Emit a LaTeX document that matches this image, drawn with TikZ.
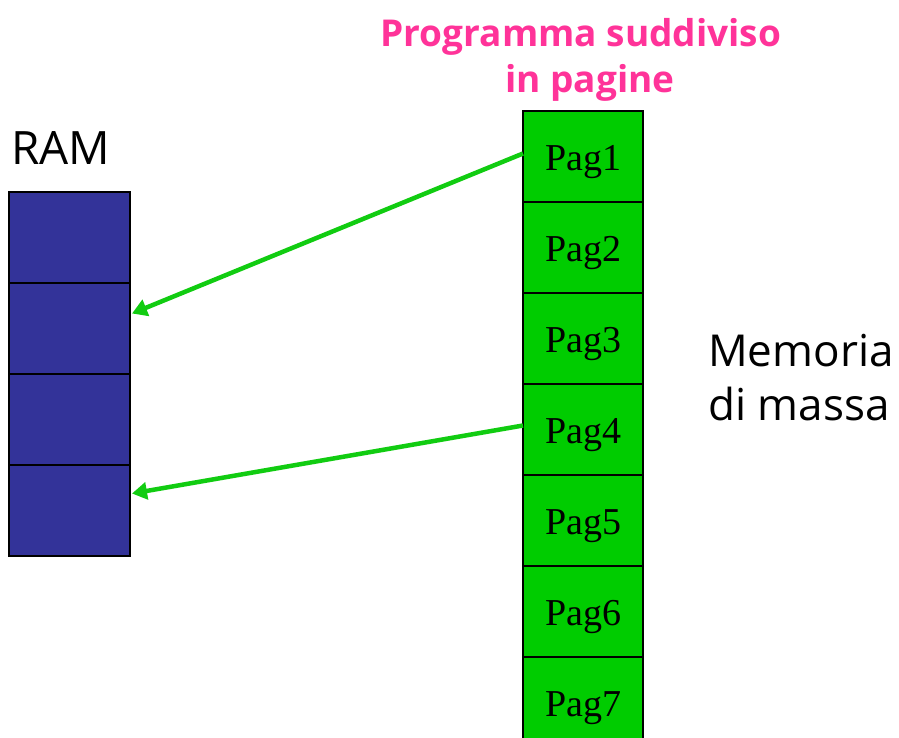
\documentclass[tikz,border=0pt]{standalone}
\usepackage{fontspec}
\setmainfont{Liberation Serif}
\newfontfamily\comic{Open Sans}
\usetikzlibrary{arrows.meta}
\definecolor{ramblue}{HTML}{333399}
\definecolor{pggreen}{HTML}{00CC00}
\definecolor{arrgreen}{HTML}{11CC11}
\definecolor{titlepink}{HTML}{FF3399}
\begin{document}
\begin{tikzpicture}[x=1pt,y=-1pt,
  ramcell/.style={draw=black,line width=1.2pt,fill=ramblue,minimum width=121pt,minimum height=91pt,inner sep=0pt,outer sep=0pt,anchor=north west},
  pagecell/.style={draw=black,line width=1.2pt,fill=pggreen,minimum width=120pt,minimum height=91pt,inner sep=0pt,outer sep=0pt,anchor=north west,text height=28pt,text depth=0pt,font=\fontsize{38}{40}\selectfont},
  link/.style={draw=arrgreen,line width=4.5pt,-{Triangle[length=15pt,width=17pt]}},
  lbl/.style={inner sep=0pt,anchor=base west,font=\comic\fontsize{46}{50}\selectfont},
  ttl/.style={inner sep=0pt,anchor=base,text=titlepink,font=\comic\bfseries\fontsize{37}{40}\selectfont}
]
\useasboundingbox (0,0) rectangle (899,738);
\begin{scope}
\clip (0,0) rectangle (899,738);
\node[ramcell] (r1) at (9,192) {};
\node[ramcell] (r2) at (9,283) {};
\node[ramcell] (r3) at (9,374) {};
\node[ramcell] (r4) at (9,465) {};
\node[pagecell] (p1) at (523,111) {Pag1};
\node[pagecell] (p2) at (523,202) {Pag2};
\node[pagecell] (p3) at (523,293) {Pag3};
\node[pagecell] (p4) at (523,384) {Pag4};
\node[pagecell] (p5) at (523,475) {Pag5};
\node[pagecell] (p6) at (523,566) {Pag6};
\node[pagecell] (p7) at (523,657) {Pag7};
\end{scope}
\coordinate (a1s) at ([yshift=3pt]p1.west);
\coordinate (a1e) at ([yshift=15pt,xshift=2pt]r2.east);
\coordinate (a2s) at ([yshift=4pt]p4.west);
\coordinate (a2e) at ([yshift=17pt,xshift=2pt]r4.east);
\draw[link] (a1s) -- (a1e);
\draw[link] (a2s) -- (a2e);
\node[lbl] (ram) at (11,165) {RAM};
\node[lbl,font=\comic\fontsize{44}{50}\selectfont] (mem1) at (708,366) {Memoria};
\node[lbl,font=\comic\fontsize{44}{50}\selectfont] (mem2) at (708,420) {di massa};
\node[ttl] (t1) at (581,47) {Programma suddiviso};
\node[ttl] (t2) at (590,93) {in pagine};
\end{tikzpicture}
\end{document}
